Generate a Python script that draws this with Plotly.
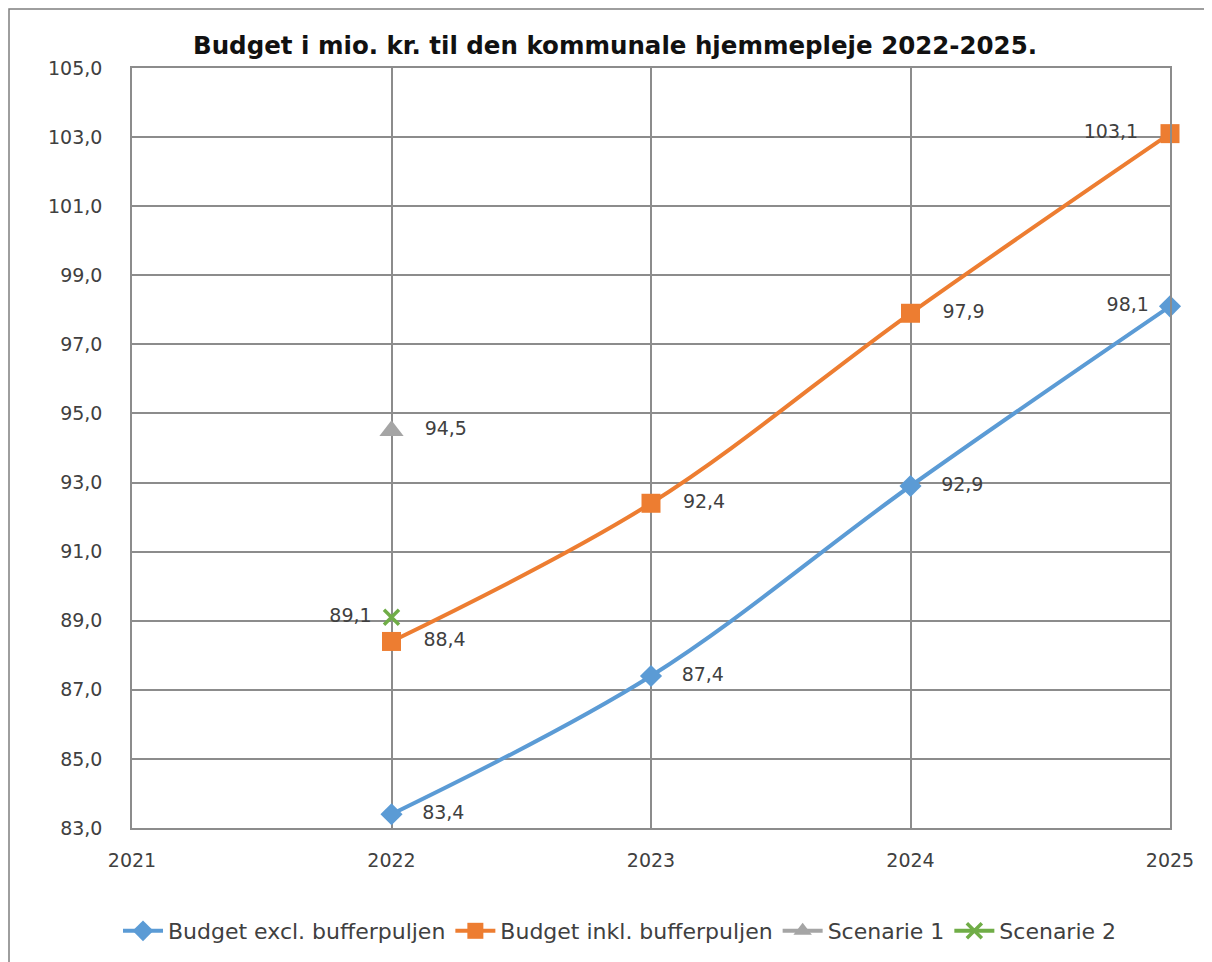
import plotly.graph_objects as go

years = [2022, 2023, 2024, 2025]
budget_excl = [83.4, 87.4, 92.9, 98.1]
budget_inkl = [88.4, 92.4, 97.9, 103.1]
scen1_year = [2022]
scen1 = [94.5]
scen2_year = [2022]
scen2 = [89.1]

title = "Budget i mio. kr. til den kommunale hjemmepleje 2022-2025."
names = ["Budget excl. bufferpuljen", "Budget inkl. bufferpuljen", "Scenarie 1", "Scenarie 2"]
colors = ["#5B9BD5", "#ED7D31", "#A5A5A5", "#70AD47"]
font_family = "'DejaVu Sans', sans-serif"
text_color = "#404040"
SP = "\u2002"


def fmt(v):
    return f"{v:.1f}".replace(".", ",")


def right(vals):
    return [SP * 2 + fmt(v) for v in vals]


fig = go.Figure()
fig.add_trace(go.Scatter(
    x=years, y=budget_excl, name=names[0], mode="lines+markers+text",
    line=dict(color=colors[0], width=4, shape="spline"),
    marker=dict(symbol="diamond", size=17, color=colors[0]),
    text=right(budget_excl[:3]) + [fmt(budget_excl[3]) + SP],
    textposition=["middle right", "middle right", "middle right", "middle left"],
    textfont=dict(size=19, color=text_color, family=font_family),
    cliponaxis=False,
))
fig.add_trace(go.Scatter(
    x=years, y=budget_inkl, name=names[1], mode="lines+markers+text",
    line=dict(color=colors[1], width=4, shape="spline"),
    marker=dict(symbol="square", size=19, color=colors[1]),
    text=right(budget_inkl[:3]) + [fmt(budget_inkl[3]) + SP * 2],
    textposition=["middle right", "middle right", "middle right", "middle left"],
    textfont=dict(size=19, color=text_color, family=font_family),
    cliponaxis=False,
))
fig.add_trace(go.Scatter(
    x=scen1_year, y=scen1, name=names[2], mode="lines+markers+text",
    line=dict(color=colors[2], width=4),
    marker=dict(symbol="triangle-up", size=21, color=colors[2]),
    text=right(scen1), textposition="middle right",
    textfont=dict(size=19, color=text_color, family=font_family),
    cliponaxis=False,
))
fig.add_trace(go.Scatter(
    x=scen2_year, y=scen2, name=names[3], mode="lines+markers+text",
    line=dict(color=colors[3], width=4),
    marker=dict(symbol="x-thin", size=15, color=colors[3], line=dict(width=3.5, color=colors[3])),
    text=[fmt(v) + SP for v in scen2], textposition="middle left",
    textfont=dict(size=19, color=text_color, family=font_family),
    cliponaxis=False,
))

W, H = 1204, 954
L, R, T, B = 124, 42, 60, 134
fig.update_layout(
    width=W, height=H,
    paper_bgcolor="white", plot_bgcolor="white",
    margin=dict(l=L, r=R, t=T, b=B),
    font=dict(family=font_family, size=19, color=text_color),
    title=dict(text="<b>" + title + "</b>", x=607 / W, xanchor="center",
               y=1 - 37 / H, yanchor="middle",
               font=dict(size=24.5, color="#111111", family=font_family)),
    legend=dict(orientation="h", x=612 / W, xanchor="center", xref="container",
                y=1 - 923 / H, yanchor="middle", yref="container",
                font=dict(size=22, color=text_color, family=font_family),
                itemwidth=40, tracegroupgap=0),
    showlegend=True,
)
fig.update_xaxes(range=[2021, 2025], dtick=1, tick0=2021, showgrid=True,
                 gridcolor="#8C8C8C", gridwidth=1.5, showline=True, linecolor="#8C8C8C",
                 linewidth=1.5, mirror=True, zeroline=False, ticks="",
                 ticklabelstandoff=14, tickfont=dict(size=19, color=text_color))
fig.update_yaxes(range=[83, 105], dtick=2, tick0=83, tickformat=".1f", showgrid=True,
                 gridcolor="#8C8C8C", gridwidth=1.5, showline=True, linecolor="#8C8C8C",
                 linewidth=1.5, mirror=True, zeroline=False, ticks="",
                 ticklabelstandoff=24, tickfont=dict(size=19, color=text_color))
fig.update_layout(separators=",.")

# outer chart border
pw, ph = W - L - R, H - T - B
fig.add_shape(type="rect", xref="paper", yref="paper",
              x0=(1 - L) / pw, x1=(W + 10 - L) / pw,
              y0=(ph + T - H - 20) / ph, y1=(ph + T - 1) / ph,
              line=dict(color="#7F7F7F", width=1.5), fillcolor="rgba(0,0,0,0)", layer="below")

fig.write_html("out.html")
